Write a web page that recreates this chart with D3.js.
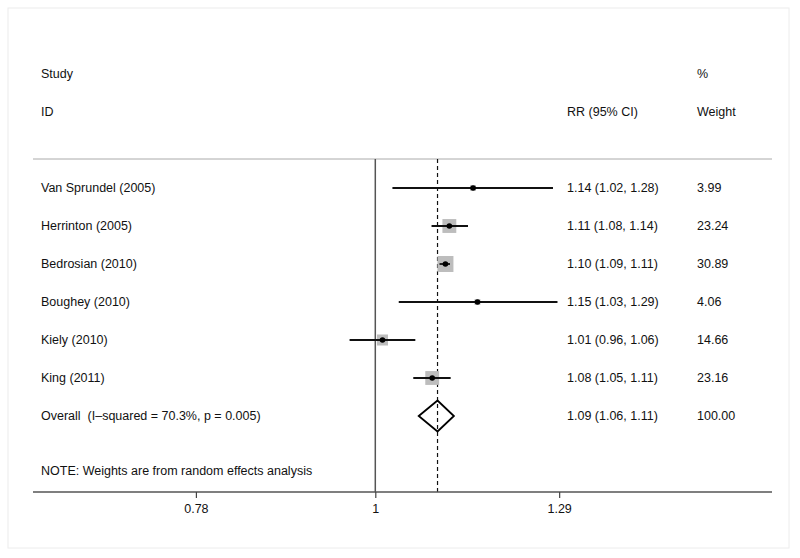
<!DOCTYPE html>
<html>
<head>
<meta charset="utf-8">
<script src="https://cdn.jsdelivr.net/npm/d3@7"></script>
<style>
  body { margin: 0; background: #fff; }
  text { font-family: "Liberation Sans", Arial, sans-serif; font-size: 12.5px; fill: #111; white-space: pre; }
</style>
</head>
<body>
<svg width="800" height="558"></svg>
<script>
const svg = d3.select('svg')

// study data
const studies = ['Van Sprundel (2005)', 'Herrinton (2005)', 'Bedrosian (2010)', 'Boughey (2010)', 'Kiely (2010)', 'King (2011)']
const rr = [1.145, 1.108, 1.102, 1.152, 1.010, 1.082]
const lower = [1.024, 1.081, 1.093, 1.033, 0.965, 1.054]
const upper = [1.279, 1.137, 1.109, 1.287, 1.057, 1.110]
const ciLabels = ['1.14 (1.02, 1.28)', '1.11 (1.08, 1.14)', '1.10 (1.09, 1.11)', '1.15 (1.03, 1.29)', '1.01 (0.96, 1.06)', '1.08 (1.05, 1.11)']
const weights = [3.99, 23.24, 30.89, 4.06, 14.66, 23.16]
const weightLabels = ['3.99', '23.24', '30.89', '4.06', '14.66', '23.16']

const overall = {label: 'Overall  (I\u2013squared = 70.3%, p = 0.005)', est: 1.09, lo: 1.062, hi: 1.115, ci: '1.09 (1.06, 1.11)', w: '100.00'}
const tickValues = [0.78, 1, 1.29]
const tickLabels = ['0.78', '1', '1.29']

const x = d3.scaleLog().domain([0.6395, 1.6197]).range([52.5, 723.5])
const y = d3.scaleLinear().domain([0, 6]).range([188, 416])
const size = d3.scaleSqrt().domain([0, 30.89]).range([0, 16])

const topY = 159, axisY = 492

// frame
svg.append('rect').attr('x', 8).attr('y', 8).attr('width', 781).attr('height', 540)
  .attr('fill', 'none').attr('stroke', '#ececec')

// headers
const col = {id: 41, ci: 567, w: 697}
svg.append('text').attr('x', col.id).attr('y', 78).text('Study')
svg.append('text').attr('x', col.w).attr('y', 78).text('%')
svg.append('text').attr('x', col.id).attr('y', 116).text('ID')
svg.append('text').attr('x', col.ci).attr('y', 116).text('RR (95% CI)')
svg.append('text').attr('x', col.w).attr('y', 116).text('Weight')

svg.append('line').attr('x1', 33).attr('x2', 772).attr('y1', topY).attr('y2', topY)
  .attr('stroke', '#aaa').attr('stroke-width', 1)

// null line and pooled estimate line
svg.append('line').attr('x1', x(1)).attr('x2', x(1)).attr('y1', topY).attr('y2', axisY)
  .attr('stroke', '#555').attr('stroke-width', 1.5)
svg.append('line').attr('x1', x(overall.est)).attr('x2', x(overall.est)).attr('y1', topY).attr('y2', axisY)
  .attr('stroke', '#111').attr('stroke-width', 1.2).attr('stroke-dasharray', '4,3')

// rows
const rows = svg.append('g').selectAll('g').data(studies).join('g')
rows.append('text').attr('x', col.id).attr('y', (d, i) => y(i) + 4).text(d => d)
rows.append('text').attr('x', col.ci).attr('y', (d, i) => y(i) + 4).text((d, i) => ciLabels[i])
rows.append('text').attr('x', col.w).attr('y', (d, i) => y(i) + 4).text((d, i) => weightLabels[i])
rows.append('rect')
  .attr('x', (d, i) => x(rr[i]) - size(weights[i]) / 2)
  .attr('y', (d, i) => y(i) - size(weights[i]) / 2)
  .attr('width', (d, i) => size(weights[i]))
  .attr('height', (d, i) => size(weights[i]))
  .attr('fill', '#bdbdbd')
rows.append('line')
  .attr('x1', (d, i) => x(lower[i])).attr('x2', (d, i) => x(upper[i]))
  .attr('y1', (d, i) => y(i)).attr('y2', (d, i) => y(i))
  .attr('stroke', '#111').attr('stroke-width', 1.8)
rows.append('circle').attr('cx', (d, i) => x(rr[i])).attr('cy', (d, i) => y(i)).attr('r', 2.8).attr('fill', '#000')

// overall
const oy = y(6)
svg.append('text').attr('x', col.id).attr('y', oy + 4).text(overall.label)
svg.append('text').attr('x', col.ci).attr('y', oy + 4).text(overall.ci)
svg.append('text').attr('x', col.w).attr('y', oy + 4).text(overall.w)
svg.append('path')
  .attr('d', `M${x(overall.lo)},${oy} L${x(overall.est)},${oy - 15.5} L${x(overall.hi)},${oy} L${x(overall.est)},${oy + 15.5} Z`)
  .attr('fill', 'none').attr('stroke', '#000').attr('stroke-width', 1.8)

svg.append('text').attr('x', col.id).attr('y', 475).text('NOTE: Weights are from random effects analysis')

// axis
svg.append('line').attr('x1', 33).attr('x2', 772).attr('y1', axisY).attr('y2', axisY)
  .attr('stroke', '#555').attr('stroke-width', 1.6)
const ax = svg.append('g').attr('transform', `translate(0,${axisY})`)
  .call(d3.axisBottom(x).tickValues(tickValues).tickFormat((d, i) => tickLabels[i]).tickSize(6).tickPadding(6))
ax.select('.domain').remove()
ax.selectAll('line').attr('stroke', '#444').attr('stroke-width', 1.2)
ax.selectAll('text').attr('font-size', 12.5).attr('font-family', '"Liberation Sans", Arial, sans-serif').attr('fill', '#111')
</script>
</body>
</html>
